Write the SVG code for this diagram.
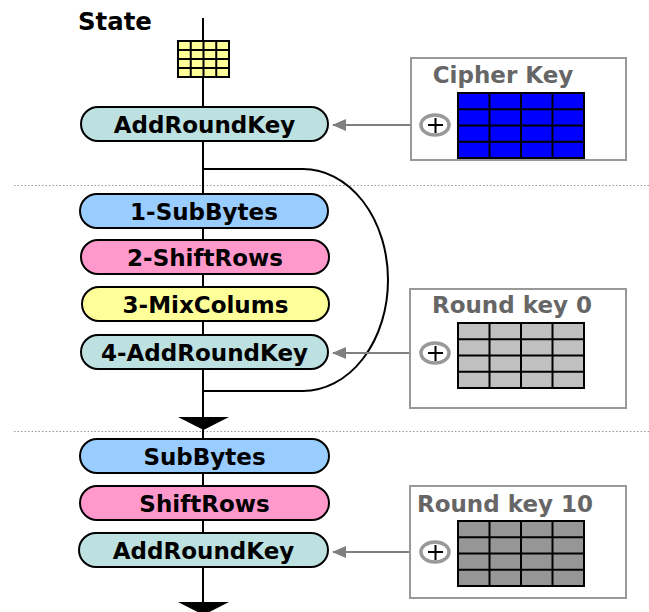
<svg xmlns="http://www.w3.org/2000/svg" width="649" height="612" viewBox="0 0 649 612">
<style>
.pill{stroke:#000;stroke-width:2}
.ark{fill:#bde0e0}.sb{fill:#99ccff}.sr{fill:#ff99cc}.mc{fill:#ffff99}
.pt{font-family:"DejaVu Sans",sans-serif;font-weight:bold;font-size:23px;text-anchor:middle;fill:#000}
.kt{font-family:"DejaVu Sans",sans-serif;font-weight:bold;font-size:23px;text-anchor:middle;fill:#666}
.box{fill:#fff;stroke:#999;stroke-width:2}
.ox{fill:none;stroke:#999;stroke-width:3.5}
.plus{stroke:#000;stroke-width:2}
.dot{stroke:#999;stroke-width:1;stroke-dasharray:1.5 2}
.ln{stroke:#000;stroke-width:2;fill:none}
.ga{stroke:#808080;stroke-width:2;marker-end:url(#ah)}
</style>
<defs>
<marker id="ah" viewBox="0 0 14 12" refX="13" refY="6" markerWidth="14" markerHeight="12" markerUnits="userSpaceOnUse" orient="auto">
<path d="M0,0 L14,6 L0,12 Z" fill="#808080"/>
</marker>
<g id="gridlines">
<path d="M31.5,0V65M63,0V65M94.5,0V65M0,16.25H126M0,32.5H126M0,48.75H126" stroke="#000" stroke-width="2"/>
<rect x="0" y="0" width="126" height="65" fill="none" stroke="#000" stroke-width="2"/>
</g>
</defs>
<line class="dot" x1="14" y1="185.5" x2="649" y2="185.5"/>
<line class="dot" x1="14" y1="431.5" x2="649" y2="431.5"/>
<g id="connectors">
<line class="ln" x1="203" y1="18" x2="203" y2="610"/>
<path class="ln" d="M203,169 H303 A85,111 0 0 1 303,391 H203"/>
<polygon points="178,417 229,417 203.5,430" fill="#000"/>
<polygon points="178,602 229,602 203.5,615" fill="#000"/>
<line class="ga" x1="411" y1="125" x2="333" y2="125"/>
<line class="ga" x1="410" y1="353" x2="333" y2="353"/>
<line class="ga" x1="410" y1="552" x2="333" y2="552"/>
</g>
<text x="78" y="30" font-family="DejaVu Sans,sans-serif" font-weight="bold" font-size="24.4" fill="#000">State</text>
<g id="state">
<rect x="178" y="41" width="51" height="36" fill="#ffff99" stroke="#000" stroke-width="2"/>
<path d="M190.75,41V77M203.5,41V77M216.25,41V77M178,50H229M178,59H229M178,68H229" stroke="#000" stroke-width="2"/>
</g>
<g id="addroundkey0"><rect class="pill ark" x="81" y="107" width="247" height="34" rx="17"/><text class="pt" x="204.5" y="132.5">AddRoundKey</text></g>
<g id="subbytes1"><rect class="pill sb" x="80" y="194" width="248" height="34" rx="17"/><text class="pt" x="204" y="219.5">1-SubBytes</text></g>
<g id="shiftrows2"><rect class="pill sr" x="81" y="240" width="248" height="34" rx="17"/><text class="pt" x="205" y="265.5">2-ShiftRows</text></g>
<g id="mixcolums3"><rect class="pill mc" x="82" y="287" width="247" height="34" rx="17"/><text class="pt" x="205.5" y="312.5">3-MixColums</text></g>
<g id="addroundkey4"><rect class="pill ark" x="81" y="335" width="247" height="34" rx="17"/><text class="pt" x="204.5" y="360.5">4-AddRoundKey</text></g>
<g id="subbytes"><rect class="pill sb" x="80" y="439" width="249" height="34" rx="17"/><text class="pt" x="204.5" y="464.5">SubBytes</text></g>
<g id="shiftrows"><rect class="pill sr" x="80" y="486" width="249" height="34" rx="17"/><text class="pt" x="204.5" y="511.5">ShiftRows</text></g>
<g id="addroundkeyfinal"><rect class="pill ark" x="79" y="533" width="249" height="34" rx="17"/><text class="pt" x="203.5" y="558.5">AddRoundKey</text></g>
<g id="cipherkey">
<rect class="box" x="411" y="58" width="215" height="102"/>
<text class="kt" x="503" y="83">Cipher Key</text>
<rect x="458" y="93" width="126" height="65" fill="#0000ff"/>
<use href="#gridlines" x="458" y="93"/>
<ellipse class="ox" cx="435" cy="125" rx="14" ry="10"/>
<path class="plus" d="M428,125H443M435.5,118V133"/>
</g>
<g id="roundkey0">
<rect class="box" x="410" y="289" width="216" height="119"/>
<text class="kt" x="512" y="313">Round key 0</text>
<rect x="458" y="323" width="126" height="65" fill="#c0c0c0"/>
<use href="#gridlines" x="458" y="323"/>
<ellipse class="ox" cx="435" cy="353" rx="14" ry="10"/>
<path class="plus" d="M428,353H443M435.5,346V361"/>
</g>
<g id="roundkey10">
<rect class="box" x="410" y="486" width="216" height="112"/>
<text class="kt" x="505" y="512">Round key 10</text>
<rect x="458" y="521" width="126" height="65" fill="#969696"/>
<use href="#gridlines" x="458" y="521"/>
<ellipse class="ox" cx="435" cy="552" rx="14" ry="10"/>
<path class="plus" d="M428,552H443M435.5,545V560"/>
</g>
</svg>
